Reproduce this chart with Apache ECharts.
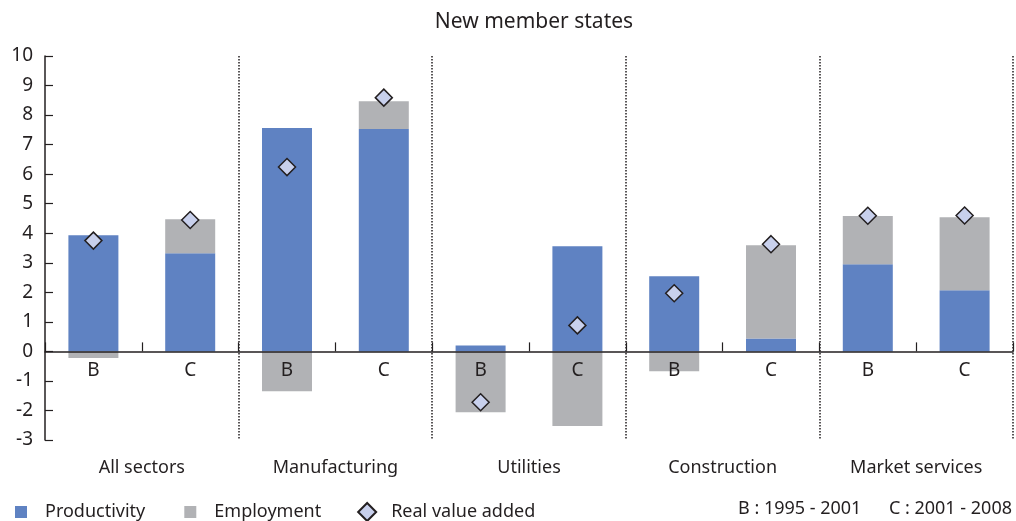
<!DOCTYPE html>
<html>
<head>
<meta charset="utf-8">
<script src="https://cdn.jsdelivr.net/npm/echarts@6/dist/echarts.min.js"></script>
<style>
  html, body { margin: 0; padding: 0; background: #fff; }
  #chart { width: 1016px; height: 521px; }
</style>
</head>
<body>
<div id="chart"></div>
<script>
var periods = ['B', 'C', 'B', 'C', 'B', 'C', 'B', 'C', 'B', 'C'];
var sectors = ['All sectors', 'Manufacturing', 'Utilities', 'Construction', 'Market services'];
var productivity = [3.93, 3.32, 7.56, 7.53, 0.2, 3.56, 2.54, 0.44, 2.95, 2.07];
var employment = [-0.22, 1.15, -1.35, 0.94, -2.06, -2.53, -0.67, 3.15, 1.63, 2.47];
var realValueAdded = [3.75, 4.45, 6.24, 8.59, -1.72, 0.88, 1.97, 3.63, 4.59, 4.6];
var noteB = 'B : 1995 - 2001';
var noteC = 'C : 2001 - 2008';

var font = 'Noto Sans';
var ink = '#231f20';
var yMin = -3, yMax = 10;
var gridTop = 56, gridBottom = 81, chartH = 521;
// lift the B/C axis from the grid bottom up to the zero line
var zeroOffset = (chartH - gridTop - gridBottom) * (0 - yMin) / (yMax - yMin);

// icons padded with empty space so square and diamond sit like the original
var squareIcon = 'path://M0,0M28,18M3,3h12v12h-12z';
var diamondIcon = 'path://M0,0M28,18M9,0L18,9L9,18L0,9z';

var chart = echarts.init(document.getElementById('chart'));
var option = {
    animation: false,
    textStyle: {fontFamily: font, color: ink},
    title: {
        text: 'New member states',
        left: 529, textAlign: 'center', top: 7,
        textStyle: {fontFamily: font, fontSize: 21, fontWeight: 'normal', color: ink}
    },
    legend: {
        left: 12, top: 502, padding: 0,
        itemWidth: 28, itemHeight: 18, itemGap: 36,
        textStyle: {fontFamily: font, fontSize: 18, color: ink},
        data: [
            {name: 'Productivity', icon: squareIcon},
            {name: 'Employment', icon: squareIcon},
            {name: 'Real value added', icon: diamondIcon}
        ]
    },
    graphic: [{
        type: 'text', left: 738, top: 500,
        style: {text: noteB, font: '18px "Noto Sans"', fill: ink}
    }, {
        type: 'text', right: 4, top: 500,
        style: {text: noteC, font: '18px "Noto Sans"', fill: ink}
    }],
    grid: {left: 45, right: 3, top: gridTop, bottom: gridBottom},
    xAxis: [{
        type: 'category',
        data: periods,
        position: 'bottom',
        offset: -zeroOffset,
        z: 5,
        axisLine: {onZero: false, lineStyle: {color: ink, width: 1.5}},
        axisTick: {show: true, inside: true, length: 9, interval: 0, lineStyle: {color: ink, width: 1.2}},
        axisLabel: {fontSize: 19, color: ink, margin: 10, fontFamily: font},
        splitLine: {
            show: true,
            interval: function (index) { return index > 0 && index % 2 === 0; },
            lineStyle: {type: 'dotted', color: ink, width: 1.5}
        }
    }, {
        type: 'category',
        data: sectors,
        position: 'bottom',
        axisLine: {show: false, onZero: false},
        axisTick: {show: false},
        axisLabel: {fontSize: 18, color: ink, margin: 19, fontFamily: font}
    }],
    yAxis: {
        type: 'value',
        min: yMin, max: yMax, interval: 1,
        axisLine: {show: true, lineStyle: {color: ink, width: 1.5}},
        axisTick: {show: true, inside: true, length: 8, lineStyle: {color: ink, width: 1.2}},
        axisLabel: {fontSize: 19, color: ink, margin: 12, fontFamily: font},
        splitLine: {show: false}
    },
    series: [{
        name: 'Productivity',
        type: 'bar',
        stack: 'total',
        barWidth: 50,
        data: productivity,
        itemStyle: {color: '#5f82c2'}
    }, {
        name: 'Employment',
        type: 'bar',
        stack: 'total',
        barWidth: 50,
        data: employment,
        itemStyle: {color: '#b1b2b5'}
    }, {
        name: 'Real value added',
        type: 'scatter',
        symbol: 'diamond',
        symbolSize: 17,
        z: 6,
        data: realValueAdded,
        itemStyle: {color: '#c8d0ec', borderColor: ink, borderWidth: 1.5, opacity: 1}
    }]
};
chart.setOption(option);
</script>
</body>
</html>
